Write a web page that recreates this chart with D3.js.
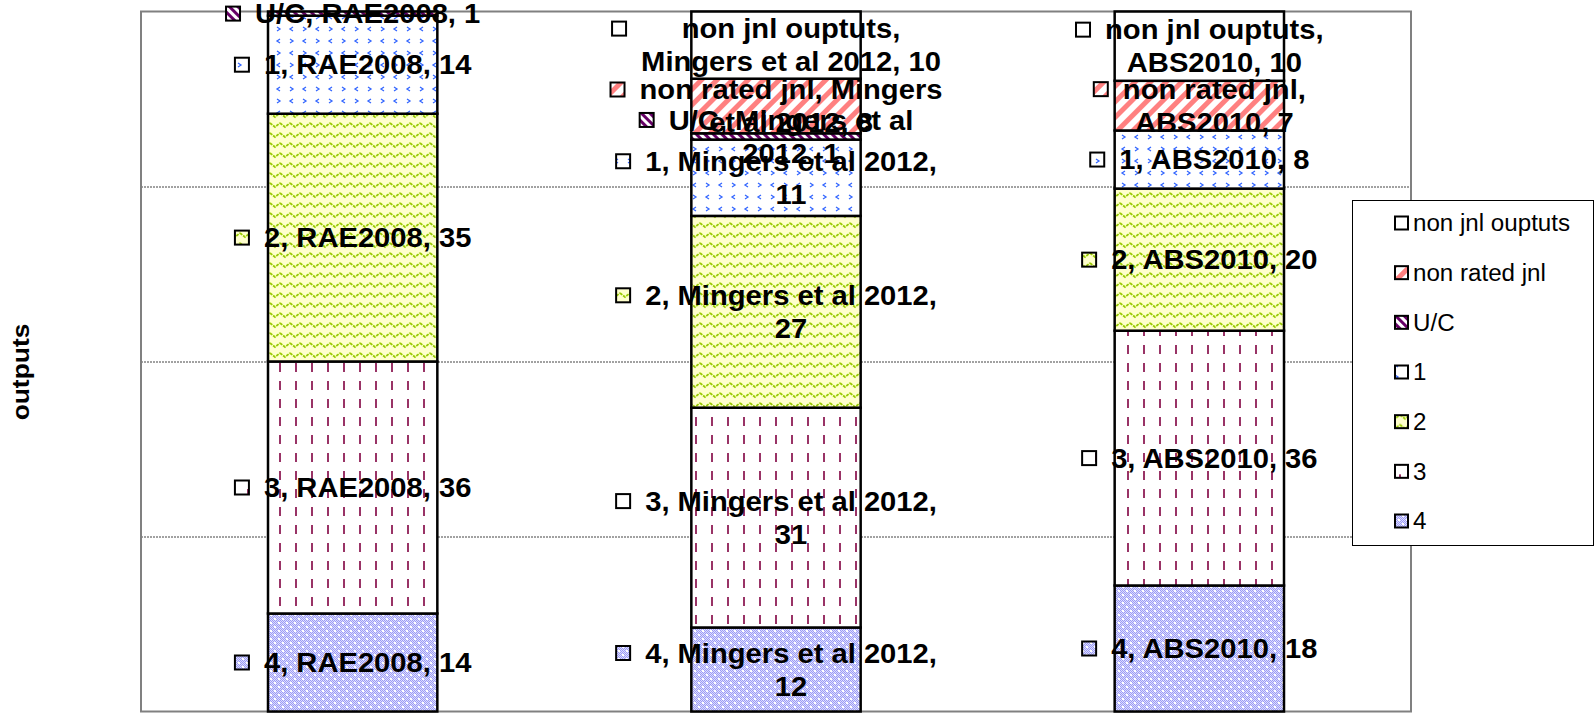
<!DOCTYPE html>
<html>
<head>
<meta charset="utf-8">
<script src="https://cdn.jsdelivr.net/npm/d3@7"></script>
<style>
  body { margin: 0; background: #fff; }
  svg { display: block; }
</style>
</head>
<body>
<svg id="chart" width="1595" height="713"></svg>
<script>
// categories and stacked series (bottom -> top)
const categories = ["RAE2008", "Mingers et al 2012", "ABS2010"];
const seriesNames = ["4", "3", "2", "1", "U/C", "non rated jnl", "non jnl ouptuts"];
const grade4 = [14, 12, 18];
const grade3 = [36, 31.4, 36.4];
const grade2 = [35.4, 27.4, 20.3];
const grade1 = [14, 10.9, 8.3];
const unclassified = [0.6, 0.9, 0];
const nonRatedJnl = [0, 7.8, 7.1];
const nonJnlOutputs = [0, 9.6, 9.9];
const gridTicks = [25, 50, 75];
const legendOrder = ["non jnl ouptuts", "non rated jnl", "U/C", "1", "2", "3", "4"];

const seriesValues = [grade4, grade3, grade2, grade1, unclassified, nonRatedJnl, nonJnlOutputs];
const rows = categories.map((c, i) => {
  const r = { cat: c };
  seriesNames.forEach((s, k) => r[s] = seriesValues[k][i]);
  return r;
});
const stacked = d3.stack().keys(seriesNames)(rows);

const svg = d3.select("#chart");
const pLeft = 141, pRight = 1411, pTop = 11.5, pBottom = 711.5;

const x = d3.scaleBand().domain(categories).range([pLeft, pRight])
  .paddingInner(0.6).paddingOuter(0.3);
const y = d3.scaleLinear().domain([0, 100]).range([pBottom, pTop]);

// fill patterns
const defs = svg.append("defs");
function pat(id, w, h, bg, rot) {
  const p = defs.append("pattern").attr("id", id)
    .attr("patternUnits", "userSpaceOnUse").attr("width", w).attr("height", h);
  if (rot) p.attr("patternTransform", "rotate(" + rot + ")");
  p.append("rect").attr("width", w).attr("height", h).attr("fill", bg);
  return p;
}
// 4 : fine lavender checker
const p4 = pat("p4", 8, 8, "#dcdcff");
for (let i = 0; i < 8; i++) for (let j = 0; j < 8; j++) {
  if ((i + j) % 2 === 0) p4.append("rect").attr("x", i).attr("y", j).attr("width", 1).attr("height", 1).attr("fill", "#9c9cf4");
}
p4.append("rect").attr("x", 2).attr("y", 2).attr("width", 2).attr("height", 2).attr("fill", "#fff");
p4.append("rect").attr("x", 6).attr("y", 6).attr("width", 2).attr("height", 2).attr("fill", "#fff");
// 3 : maroon vertical dashes
const p3 = pat("p3", 16, 18, "#fff");
p3.append("rect").attr("x", 7).attr("y", 3).attr("width", 2).attr("height", 9).attr("fill", "#993366");
// 2 : green zigzag on pale yellow
const p2 = pat("p2", 10, 10, "#ffffcc");
p2.append("path").attr("d", "M0,3 L5,7 L10,3").attr("fill", "none")
  .attr("stroke", "#99cc00").attr("stroke-width", 1.8).attr("stroke-dasharray", "3,1");
// 1 : blue chevrons on white
const p1 = pat("p1", 26, 24, "#fff");
p1.append("path").attr("d", "M7,3 L4,5 L7,7").attr("fill", "none").attr("stroke", "#3366ff").attr("stroke-width", 1.3);
p1.append("path").attr("d", "M17,3 L20,5 L17,7").attr("fill", "none").attr("stroke", "#3366ff").attr("stroke-width", 1.3);
p1.append("path").attr("d", "M4,15 L7,17 L4,19").attr("fill", "none").attr("stroke", "#3366ff").attr("stroke-width", 1.3);
p1.append("path").attr("d", "M20,15 L17,17 L20,19").attr("fill", "none").attr("stroke", "#3366ff").attr("stroke-width", 1.3);
// U/C : purple diagonal stripes
const pUC = pat("pUC", 6, 6, "#fff", -45);
pUC.append("rect").attr("width", 3).attr("height", 6).attr("fill", "#660066");
// non rated jnl : salmon diagonal stripes
const pNR = pat("pNR", 11, 11, "#fff", 45);
pNR.append("rect").attr("width", 5).attr("height", 11).attr("fill", "#ff8080");

const fills = {
  "4": "url(#p4)", "3": "url(#p3)", "2": "url(#p2)", "1": "url(#p1)",
  "U/C": "url(#pUC)", "non rated jnl": "url(#pNR)", "non jnl ouptuts": "#fff"
};

// grid
svg.append("g")
  .attr("transform", "translate(" + pLeft + ",0)")
  .call(d3.axisLeft(y).tickValues(gridTicks).tickSize(-(pRight - pLeft)).tickFormat(""))
  .call(g => g.select(".domain").remove())
  .call(g => g.selectAll("line").attr("stroke", "#444").attr("stroke-width", 1).attr("stroke-dasharray", "2,1"));

// plot border
svg.append("rect")
  .attr("x", pLeft).attr("y", pTop).attr("width", pRight - pLeft).attr("height", pBottom - pTop)
  .attr("fill", "none").attr("stroke", "#808080").attr("stroke-width", 2);

// bars
svg.append("g").selectAll("g")
  .data(stacked).join("g")
  .attr("fill", d => fills[d.key])
  .selectAll("rect")
  .data(d => d.filter(s => s[1] - s[0] > 0))
  .join("rect")
  .attr("x", d => x(d.data.cat))
  .attr("width", x.bandwidth())
  .attr("y", d => y(d[1]))
  .attr("height", d => y(d[0]) - y(d[1]))
  .attr("stroke", "#000").attr("stroke-width", 2.5);

// data labels
const labFont = 27, labSx = 1.08, labLH = 33, wrapW = 310;
const font = "'Liberation Sans', Arial, sans-serif";
function wrapLines(str) {
  const t = svg.append("text").attr("font-family", font).attr("font-weight", "bold").attr("font-size", labFont);
  const words = str.split(" ");
  const lines = [];
  let cur = "";
  words.forEach(w => {
    const test = cur ? cur + " " + w : w;
    t.text(test);
    if (cur && t.node().getComputedTextLength() * labSx > wrapW) { lines.push(cur); cur = w; }
    else cur = test;
  });
  lines.push(cur);
  const widths = lines.map(l => { t.text(l); return t.node().getComputedTextLength() * labSx; });
  t.remove();
  return { lines, widths };
}

const labels = svg.append("g");
stacked.forEach(layer => {
  layer.forEach((d, i) => {
    const v = d[1] - d[0];
    if (!(v > 0)) return;
    const cx = x(d.data.cat) + x.bandwidth() / 2;
    const cy = (y(d[0]) + y(d[1])) / 2;
    const str = layer.key + ", " + d.data.cat + ", " + Math.round(v);
    const w = wrapLines(str);
    const textW = d3.max(w.widths);
    const blockW = 16 + 14 + textW;
    const x0 = cx - blockW / 2;
    const firstY = cy - (w.lines.length - 1) * labLH / 2;
    const g = labels.append("g");
    g.append("rect").attr("x", x0 + 1).attr("y", firstY - 7).attr("width", 14).attr("height", 14)
      .attr("fill", fills[layer.key]).attr("stroke", "#000").attr("stroke-width", 2);
    const tx = x0 + 30 + textW / 2;
    w.lines.forEach((l, k) => {
      g.append("text")
        .attr("transform", "translate(" + tx + "," + (firstY + k * labLH + 0.358 * labFont) + ") scale(" + labSx + ",1)")
        .attr("text-anchor", "middle")
        .attr("font-family", font).attr("font-weight", "bold").attr("font-size", labFont)
        .attr("fill", "#000")
        .text(l);
    });
  });
});

// y axis title
svg.append("text")
  .attr("transform", "translate(29,372) rotate(-90) scale(1.1,1)")
  .attr("text-anchor", "middle")
  .attr("font-family", font).attr("font-weight", "bold").attr("font-size", 24)
  .text("outputs");

// legend
const lg = svg.append("g");
lg.append("rect").attr("x", 1352.5).attr("y", 200.5).attr("width", 241).attr("height", 345)
  .attr("fill", "#fff").attr("stroke", "#000").attr("stroke-width", 1);
const legY = d3.scalePoint().domain(legendOrder).range([223, 521]);
const items = lg.selectAll("g").data(legendOrder).join("g")
  .attr("transform", d => "translate(0," + legY(d) + ")");
items.append("rect").attr("x", 1395).attr("y", -6.5).attr("width", 13).attr("height", 13)
  .attr("fill", d => fills[d]).attr("stroke", "#000").attr("stroke-width", 2);
items.append("text")
  .attr("transform", "translate(1413," + (0.358 * 23) + ") scale(1.05,1)")
  .attr("font-family", font).attr("font-size", 23).attr("fill", "#000")
  .text(d => d);
</script>
</body>
</html>
